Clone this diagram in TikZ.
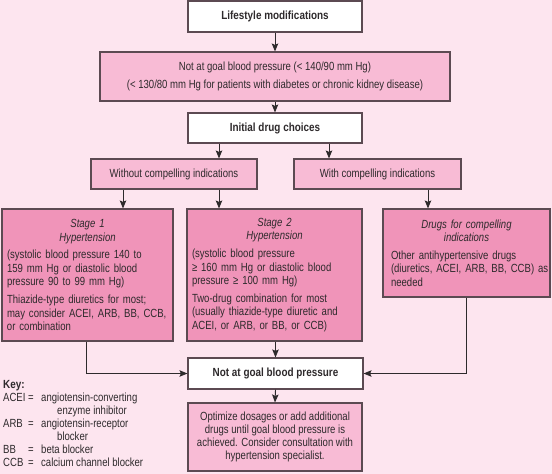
\documentclass[tikz,border=0pt]{standalone}
\usepackage{fontspec}
\setmainfont{Liberation Sans}[FakeStretch=0.81, BoldFeatures={FakeStretch=0.84}]
\usetikzlibrary{arrows.meta}
\definecolor{bgpink}{HTML}{FDE5EF}
\definecolor{lightpink}{HTML}{F8BBD5}
\definecolor{darkpink}{HTML}{F094B9}
\definecolor{edgec}{HTML}{5C4A52}
\definecolor{textc}{HTML}{2E2A2C}
\newcommand\txtfont{\fontsize{11.8}{13.6}\selectfont}
\newcommand\ttlfont{\fontsize{11.8}{13.6}\selectfont\bfseries}
\begin{document}
\begin{tikzpicture}[x=1pt,y=-1pt,
  box/.style={draw=edgec, line width=1.1pt, inner xsep=5pt, inner ysep=0pt, text=textc, font=\txtfont, align=center},
  whitebox/.style={box, fill=white, font=\ttlfont},
  lightbox/.style={box, fill=lightpink},
  darkbox/.style={box, fill=darkpink, align=left},
  conn/.style={draw=textc, line width=0.9pt},
  arr/.style={conn, -{Stealth[length=8pt,width=6.5pt,inset=1.5pt]}}]
\fill[bgpink] (0,0) rectangle (552,474);
\useasboundingbox (0,0) rectangle (552,474);

\node[whitebox, minimum width=174pt, minimum height=31pt] (life) at (275,16.5) {Lifestyle modifications};
\node[lightbox, minimum width=350pt, minimum height=49pt] (ng1) at (275,76.5)
  {Not at goal blood pressure (< 140/90 mm Hg)\\[5pt](< 130/80 mm Hg for patients with diabetes or chronic kidney disease)};
\node[whitebox, minimum width=174pt, minimum height=30pt] (init) at (275,128) {Initial drug choices};
\node[lightbox, minimum width=166pt, minimum height=30pt] (without) at (174,174) {Without compelling indications};
\node[lightbox, minimum width=167pt, minimum height=30pt] (with) at (377.5,174) {With compelling indications};

\node[darkbox, text width=161pt, minimum height=132pt] (stage1) at (87.5,275) {%
  {\centering\itshape Stage 1\\Hypertension\par}\vspace{4pt}
  (systolic blood pressure 140 to\\159 mm Hg or diastolic blood\\pressure 90 to 99 mm Hg)\\[4pt]
  Thiazide-type diuretics for most;\\may consider ACEI, ARB, BB, CCB,\\or combination};
\node[darkbox, text width=165pt, minimum height=132pt] (stage2) at (274.5,275) {%
  {\centering\itshape Stage 2\\Hypertension\par}\vspace{4pt}
  (systolic blood pressure\\≥ 160 mm Hg or diastolic blood\\pressure ≥ 100 mm Hg)\\[4pt]
  Two-drug combination for most\\(usually thiazide-type diuretic and\\ACEI, or ARB, or BB, or CCB)};
\node[darkbox, inner xsep=8pt, text width=151pt, minimum height=88pt] (drugs) at (466.5,253) {%
  {\centering\itshape Drugs for compelling\\indications\par}\vspace{4pt}
  Other antihypertensive drugs\\\mbox{(diuretics, ACEI, ARB, BB, CCB) as}\\needed};

\node[whitebox, minimum width=175pt, minimum height=31pt] (ng2) at (275.5,373.5) {Not at goal blood pressure};
\node[lightbox, minimum width=174pt, minimum height=68pt, font=\fontsize{11.8}{12.8}\selectfont] (opt) at (275,437)
  {Optimize dosages or add additional\\drugs until goal blood pressure is\\achieved. Consider consultation with\\hypertension specialist.};

\node[anchor=north west, inner sep=0pt, text=textc, font=\fontsize{11.8}{12.9}\selectfont] (key) at (3,379.5) {%
  \begin{tabular}{@{}p{25pt}@{}p{13pt}@{}l@{}}
  \multicolumn{3}{@{}l}{\bfseries Key:}\\
  ACEI & = & angiotensin-converting\\
       &   & \hspace{16pt}enzyme inhibitor\\
  ARB  & = & angiotensin-receptor\\
       &   & \hspace{16pt}blocker\\
  BB   & = & beta blocker\\
  CCB  & = & calcium channel blocker
  \end{tabular}};

\draw[arr] (life.south) -- (ng1.north);
\draw[arr] (ng1.south) -- (init.north);
\draw[arr] (219,0 |- init.south) -- (219,0 |- without.north);
\draw[arr] (329,0 |- init.south) -- (329,0 |- with.north);
\draw[arr] (123,0 |- without.south) -- (123,0 |- stage1.north);
\draw[arr] (219,0 |- without.south) -- (219,0 |- stage2.north);
\draw[arr] (428,0 |- with.south) -- (428,0 |- drugs.north);
\draw[arr] (ng2.north |- stage2.south) -- (ng2.north);
\draw[arr] (86,0 |- stage1.south) |- (ng2.west);
\draw[arr] (466,0 |- drugs.south) |- (ng2.east);
\draw[arr] (ng2.south) -- (opt.north);
\end{tikzpicture}
\end{document}
